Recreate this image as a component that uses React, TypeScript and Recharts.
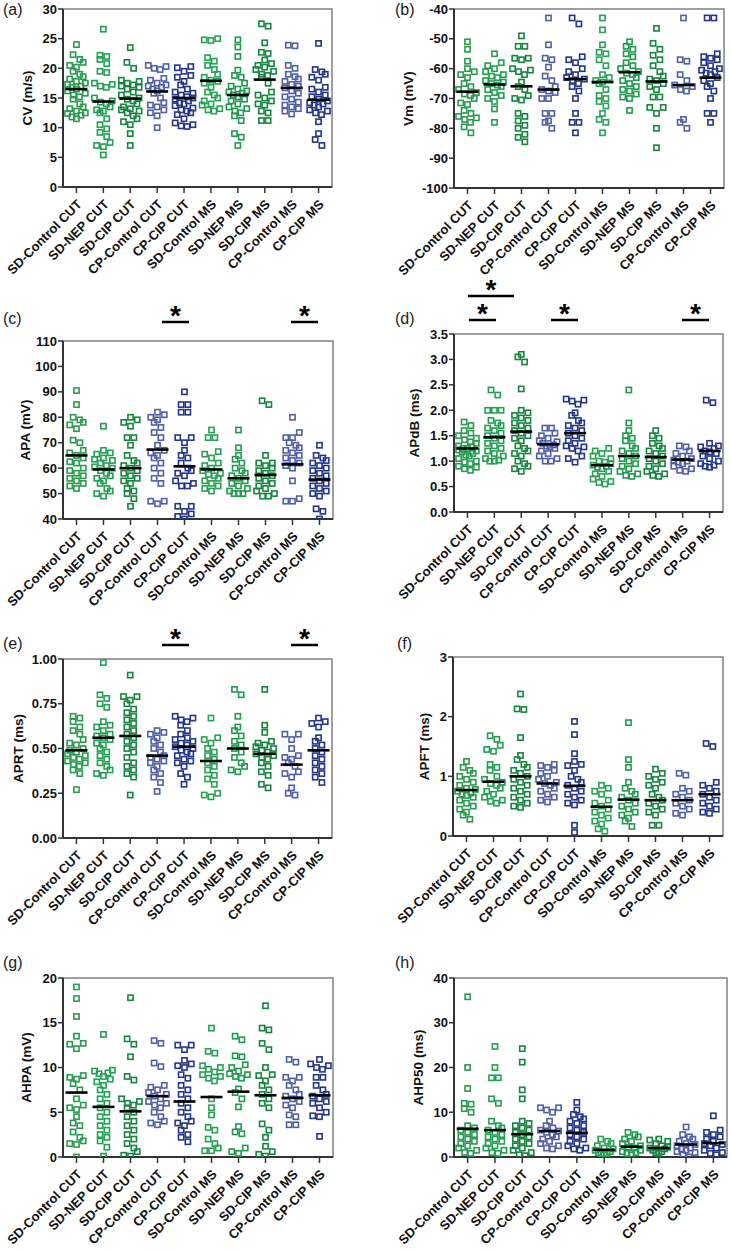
import { ScatterChart, Scatter, XAxis, YAxis, ReferenceArea } from 'recharts'

const FONT = '"Liberation Sans", Arial, Helvetica, sans-serif'

const categories = [
  'SD-Control CUT', 'SD-NEP CUT', 'SD-CIP CUT', 'CP-Control CUT', 'CP-CIP CUT',
  'SD-Control MS', 'SD-NEP MS', 'SD-CIP MS', 'CP-Control MS', 'CP-CIP MS',
]
const groupColors = [
  '#2a9b4f', '#22a052', '#17853f', '#5060a8', '#24368a',
  '#28a254', '#1f9b4e', '#17853f', '#5060a8', '#24368a',
]

// (a) conduction velocity, m/s
const cvValues = [
  [24, 22.3, 21.5, 21, 20.5, 20.2, 19.5, 19, 18.6, 18.2, 17.8, 17.5, 17.3, 17, 16.8, 16.5, 16.2, 15.8, 15.5, 15.2, 14.8, 14, 13.5, 13.2, 12.8, 12.4, 12.1, 11.8, 11.5, 12.5],
  [26.6, 22.2, 22, 21.5, 20.8, 19.5, 19.3, 17.5, 17.3, 17, 16.8, 15, 14.5, 14.3, 14, 13.5, 13, 12.8, 12.5, 11.5, 10.5, 9.8, 9.2, 8.5, 7.5, 7, 6.8, 5.4],
  [23.5, 21, 20, 18, 17.8, 17.5, 17.2, 17, 16.8, 16.5, 16, 15.5, 15, 14.8, 14.5, 14, 13.5, 13.2, 13, 12.8, 12.5, 12, 11.5, 11, 10.5, 9, 7],
  [20.5, 20.3, 20, 19.8, 18.3, 18, 17.5, 17.2, 17, 16.8, 16.5, 16.2, 15.8, 15, 14.2, 13.8, 13.5, 13, 12.5, 12, 10],
  [20.3, 20.1, 19.5, 18.8, 18.5, 17.8, 17.2, 16.5, 16, 15.8, 15.5, 15.2, 15, 14.8, 14.5, 14.2, 14, 13.7, 13.3, 13, 12.8, 12.5, 12.2, 11.5, 10.8, 10.5, 10.3, 10.2],
  [24.8, 25, 24.7, 21.8, 21.2, 20.5, 19.8, 19, 18.5, 18, 17.8, 17.5, 16.8, 16, 15.5, 15, 14.5, 14, 13.8, 13.2, 13, 12.8],
  [24.8, 23.6, 22, 19.7, 18.8, 18.5, 17.5, 17, 16.5, 16.2, 16, 15.8, 15.5, 15.2, 14.8, 14.5, 14, 13.5, 13.2, 12.8, 12.5, 12, 11.2, 9, 8.4, 7],
  [27.5, 27.1, 24.3, 22.7, 22.5, 21.4, 20.8, 20.5, 20.2, 19.8, 19.5, 19, 18.8, 18.5, 17.5, 16, 15.5, 15, 14.5, 14, 13.8, 12.8, 12.5, 11.2, 11.2],
  [23.8, 23.9, 20.5, 20, 19, 18.6, 18.2, 17.8, 17.3, 17, 16.7, 16.2, 15.8, 15.2, 14.8, 14.3, 13.8, 13.5, 13.2, 12.8, 12.3],
  [24.2, 19.8, 19.4, 19, 18.5, 18, 16.8, 16.5, 16, 15.5, 15.2, 14.8, 14.5, 14.2, 14, 13.8, 13.5, 13, 12.8, 12.5, 12.2, 11, 9, 8, 7],
]
const cvMeans = [16.5, 14.4, 14.9, 16.1, 15.0, 17.9, 15.5, 18.1, 16.7, 14.7]
const cvTicks = [0, 5, 10, 15, 20, 25, 30]

// (b) membrane potential, mV
const vmValues = [
  [-51, -53.5, -57.5, -60, -61, -62, -63, -65, -66, -67, -68, -68.5, -69, -70, -71.5, -72, -74, -75, -76, -76.5, -77, -78, -79.5, -81.5],
  [-55, -58, -59, -60, -61, -62, -62.5, -63, -64, -64.5, -65, -65.5, -66, -67, -68, -69, -70, -71, -73.5, -78],
  [-49, -52.5, -52.5, -56.5, -57, -60, -61, -62, -64.5, -66, -67, -69, -70, -70.5, -75, -76, -77.5, -79, -80, -82, -83, -84.5, -56.5, -60.5],
  [-43, -52, -56.5, -57, -59.5, -62.5, -64, -66, -67, -67.5, -68, -70, -70, -75, -75, -77.5, -78, -80],
  [-43, -45, -56, -57, -58, -60, -61, -62, -63, -63.5, -64, -65, -66, -67.5, -70, -75, -78, -78, -81.5],
  [-43, -47, -52, -54.5, -55, -57, -59, -62, -63, -64, -64.5, -65, -67, -69, -70, -71, -72.5, -75, -77, -78, -81.5],
  [-51, -52.5, -53.5, -55, -56, -58, -59, -60, -61, -61.5, -62, -63, -64, -65, -66, -67, -67.5, -68.5, -69.5, -70, -74],
  [-46.5, -51.5, -53.5, -55.5, -57, -59, -61, -62.5, -63.5, -64, -65, -66, -67, -69.5, -69.5, -73, -73, -75, -80, -86.5],
  [-43, -57.5, -57, -62, -64, -65.5, -66, -67, -67.5, -77, -78, -80],
  [-43, -43, -55, -56, -57, -58, -59, -60, -61, -61.5, -62, -63, -64, -65, -66, -67.5, -70, -75, -75, -78, -56.5, -60.5],
]
const vmMeans = [-67.7, -65.3, -65.9, -67.0, -63.5, -64.5, -61.2, -64.3, -65.5, -63.0]
const vmTicks = [-100, -90, -80, -70, -60, -50, -40]

// (c) AP amplitude, mV
const apaValues = [
  [90.5, 85, 80, 79, 78, 77, 75.5, 71, 70, 67, 65, 64, 62, 60, 59, 58, 57, 56, 55, 54, 53, 52, 62.5, 66],
  [76.5, 67, 66, 65.5, 64, 63, 62, 61, 60, 59, 58, 57, 56, 55, 54, 52, 51, 50, 49, 60.5, 63.5],
  [80, 79, 78, 76.5, 72, 72, 69, 65, 63, 62, 61, 60, 59, 58, 57, 56, 55, 54, 52, 51, 50, 48, 45],
  [82, 81, 80, 79, 78, 76, 74, 72, 69, 67, 66, 65, 64, 62, 60, 58, 56, 54, 47, 47, 46],
  [90, 85, 85, 82, 82, 72, 72, 70, 67, 65, 64, 62, 60, 59, 58, 57, 55, 54, 53, 53, 45, 45, 43, 42, 41, 40],
  [75, 72, 72, 66.5, 65.5, 64, 62, 61, 60, 59, 58, 57.5, 57, 56, 55, 54, 53, 52, 51],
  [75, 68, 65, 63.5, 62, 60, 59, 58, 57, 56, 55, 54, 53, 52, 51, 50, 50, 50],
  [86.5, 85, 65, 62, 61, 60, 59, 58, 57, 56, 55, 54, 53, 52, 51, 50, 49, 49, 62],
  [80, 74, 72, 72, 70, 69, 68, 67, 66, 65, 64, 63, 62, 61, 60, 55, 48, 47, 47],
  [69, 65, 64, 63, 62, 61, 60, 59, 58, 57, 56, 55, 54, 53, 52, 51, 50, 49, 44, 43, 40],
]
const apaMeans = [65.0, 59.5, 60.0, 67.3, 60.7, 59.5, 56.0, 57.3, 61.5, 55.5]
const apaTicks = [40, 50, 60, 70, 80, 90, 100, 110]

// (d) AP duration at base, ms
const apdbValues = [
  [1.77, 1.7, 1.6, 1.55, 1.5, 1.45, 1.42, 1.38, 1.35, 1.3, 1.28, 1.25, 1.22, 1.2, 1.18, 1.15, 1.12, 1.1, 1.05, 1.0, 0.98, 0.95, 0.9, 0.88, 0.85, 0.82, 1.25],
  [2.4, 2.3, 2.0, 2.0, 2.0, 1.8, 1.75, 1.7, 1.65, 1.6, 1.55, 1.5, 1.45, 1.4, 1.35, 1.3, 1.25, 1.2, 1.15, 1.1, 1.05, 1.02, 1.0, 1.0],
  [3.1, 3.05, 2.95, 2.42, 2.0, 1.95, 1.9, 1.85, 1.8, 1.75, 1.7, 1.65, 1.6, 1.55, 1.5, 1.45, 1.4, 1.3, 1.25, 1.2, 1.15, 1.1, 1.0, 0.95, 0.9, 0.85, 0.8],
  [1.65, 1.65, 1.55, 1.5, 1.45, 1.4, 1.38, 1.35, 1.32, 1.3, 1.28, 1.25, 1.2, 1.15, 1.1, 1.05, 1.0, 1.0],
  [2.22, 2.2, 2.18, 2.12, 1.95, 1.9, 1.8, 1.75, 1.7, 1.65, 1.6, 1.55, 1.5, 1.45, 1.4, 1.35, 1.3, 1.28, 1.25, 1.2, 1.1, 1.05, 0.98],
  [1.25, 1.2, 1.15, 1.1, 1.05, 1.0, 0.98, 0.95, 0.92, 0.9, 0.88, 0.85, 0.8, 0.75, 0.7, 0.65, 0.6, 0.58, 0.55],
  [2.4, 1.75, 1.6, 1.5, 1.45, 1.4, 1.3, 1.25, 1.2, 1.15, 1.1, 1.05, 1.0, 0.95, 0.9, 0.85, 0.8, 0.75, 0.72, 0.7],
  [1.6, 1.5, 1.45, 1.35, 1.3, 1.25, 1.2, 1.15, 1.1, 1.05, 1.0, 0.95, 0.9, 0.85, 0.8, 0.75, 0.72, 0.7],
  [1.3, 1.28, 1.2, 1.15, 1.1, 1.05, 1.02, 1.0, 0.98, 0.95, 0.9, 0.85, 0.82, 0.8],
  [2.2, 2.15, 1.35, 1.3, 1.28, 1.25, 1.2, 1.18, 1.15, 1.1, 1.05, 1.0, 0.95, 0.92, 0.9, 0.88],
]
const apdbMeans = [1.25, 1.47, 1.58, 1.33, 1.55, 0.92, 1.1, 1.08, 1.03, 1.2]
const apdbTicks = [0, 0.5, 1, 1.5, 2, 2.5, 3, 3.5]

// (e) AP rise time, ms
const aprtValues = [
  [0.68, 0.67, 0.65, 0.62, 0.6, 0.58, 0.55, 0.53, 0.52, 0.5, 0.49, 0.48, 0.47, 0.46, 0.45, 0.44, 0.43, 0.42, 0.41, 0.4, 0.38, 0.36, 0.27],
  [0.98, 0.8, 0.78, 0.75, 0.73, 0.65, 0.63, 0.62, 0.6, 0.58, 0.57, 0.56, 0.55, 0.53, 0.52, 0.5, 0.48, 0.46, 0.44, 0.42, 0.4, 0.38, 0.35, 0.36],
  [0.91, 0.79, 0.79, 0.77, 0.75, 0.72, 0.7, 0.68, 0.66, 0.64, 0.62, 0.6, 0.58, 0.56, 0.54, 0.52, 0.5, 0.48, 0.45, 0.42, 0.4, 0.38, 0.36, 0.34, 0.24],
  [0.6, 0.59, 0.58, 0.56, 0.54, 0.52, 0.5, 0.48, 0.46, 0.45, 0.44, 0.43, 0.42, 0.4, 0.38, 0.36, 0.34, 0.31, 0.26],
  [0.68, 0.67, 0.66, 0.65, 0.63, 0.6, 0.58, 0.56, 0.55, 0.54, 0.53, 0.52, 0.51, 0.5, 0.49, 0.48, 0.47, 0.46, 0.44, 0.43, 0.42, 0.4, 0.36, 0.34, 0.3],
  [0.67, 0.56, 0.55, 0.53, 0.5, 0.48, 0.46, 0.44, 0.42, 0.4, 0.38, 0.35, 0.33, 0.3, 0.25, 0.24, 0.23],
  [0.83, 0.8, 0.68, 0.62, 0.6, 0.57, 0.54, 0.52, 0.5, 0.48, 0.45, 0.42, 0.4, 0.38, 0.37],
  [0.83, 0.63, 0.59, 0.54, 0.53, 0.52, 0.51, 0.5, 0.49, 0.48, 0.47, 0.46, 0.45, 0.44, 0.42, 0.4, 0.37, 0.35, 0.3, 0.28],
  [0.58, 0.58, 0.55, 0.5, 0.46, 0.45, 0.44, 0.42, 0.4, 0.37, 0.36, 0.34, 0.28, 0.25, 0.24],
  [0.67, 0.65, 0.64, 0.62, 0.56, 0.54, 0.52, 0.5, 0.48, 0.46, 0.44, 0.42, 0.4, 0.38, 0.36, 0.34, 0.31],
]
const aprtMeans = [0.49, 0.56, 0.57, 0.46, 0.51, 0.43, 0.5, 0.47, 0.41, 0.49]
const aprtTicks = [0, 0.25, 0.5, 0.75, 1]

// (f) AP fall time, ms
const apftValues = [
  [1.25, 1.15, 1.1, 1.05, 1.0, 0.95, 0.9, 0.85, 0.8, 0.78, 0.75, 0.72, 0.7, 0.68, 0.65, 0.6, 0.55, 0.5, 0.45, 0.4, 0.35, 0.28],
  [1.68, 1.62, 1.52, 1.45, 1.42, 1.2, 1.15, 1.1, 1.0, 0.95, 0.9, 0.88, 0.85, 0.8, 0.75, 0.7, 0.65, 0.6, 0.58, 0.55],
  [2.38, 2.13, 2.12, 1.65, 1.35, 1.28, 1.2, 1.15, 1.1, 1.05, 1.0, 0.95, 0.9, 0.85, 0.8, 0.75, 0.7, 0.65, 0.6, 0.55, 0.5, 0.48],
  [1.2, 1.18, 1.15, 1.1, 1.05, 1.0, 0.95, 0.9, 0.88, 0.85, 0.8, 0.75, 0.7, 0.65, 0.6, 0.57],
  [1.92, 1.7, 1.38, 1.25, 1.2, 1.18, 1.1, 1.0, 0.95, 0.9, 0.85, 0.8, 0.75, 0.7, 0.65, 0.6, 0.55, 0.52, 0.18, 0.06],
  [0.85, 0.8, 0.75, 0.7, 0.6, 0.55, 0.5, 0.45, 0.4, 0.35, 0.3, 0.25, 0.2, 0.12, 0.08],
  [1.9, 1.28, 1.15, 0.9, 0.8, 0.75, 0.7, 0.65, 0.6, 0.55, 0.5, 0.45, 0.4, 0.35, 0.3, 0.25, 0.16],
  [1.12, 1.05, 1.0, 0.95, 0.9, 0.85, 0.8, 0.7, 0.65, 0.6, 0.55, 0.5, 0.45, 0.4, 0.35, 0.18, 0.18],
  [1.05, 1.02, 0.8, 0.75, 0.7, 0.65, 0.6, 0.55, 0.5, 0.45, 0.38, 0.35],
  [1.55, 1.5, 0.9, 0.85, 0.8, 0.75, 0.7, 0.65, 0.6, 0.55, 0.5, 0.45, 0.4, 0.38],
]
const apftMeans = [0.77, 0.91, 1.0, 0.88, 0.84, 0.49, 0.61, 0.6, 0.6, 0.7]
const apftTicks = [0, 1, 2, 3]

// (g) AHP amplitude, mV
const ahpaValues = [
  [19, 17.7, 15.7, 13.5, 12.7, 12.6, 12.1, 9.1, 8.9, 8.7, 8.2, 7.5, 6.5, 5.8, 5.5, 5.3, 4.5, 3.8, 3.5, 2.8, 2.2, 1.8, 1.5, 1.4, 0],
  [13.7, 9.7, 9.4, 9.0, 8.7, 8.4, 8.0, 7.5, 7.0, 6.5, 6.0, 5.5, 5.0, 4.5, 4.0, 3.5, 3.0, 2.5, 2.2, 1.8, 1.1, 0.1, 9.6, 9.3],
  [17.8, 13.2, 12.6, 11.2, 9.0, 8.6, 6.5, 6.2, 6.0, 5.8, 5.5, 5.0, 4.5, 4.0, 3.5, 3.0, 2.5, 2.0, 1.5, 1.0, 0.6, 0.2, 0.1],
  [12.7, 13.0, 10.5, 10.1, 8.0, 7.8, 7.5, 7.2, 7.0, 6.8, 6.5, 6.2, 6.0, 5.8, 5.5, 5.0, 4.5, 4.0, 3.8, 3.6],
  [12.5, 12.5, 12.0, 10.8, 10.4, 10.2, 10.0, 9.2, 8.8, 8.0, 7.5, 7.0, 6.5, 6.0, 5.5, 5.0, 4.5, 4.0, 3.8, 3.5, 3.0, 2.5, 2.2, 1.7],
  [14.4, 11.8, 11.6, 10.2, 10.0, 9.8, 9.5, 9.2, 9.0, 8.8, 8.5, 6.5, 5.5, 4.7, 3.3, 3.0, 2.0, 1.5, 1.0, 0.7, 0.7],
  [13.5, 13.1, 11.3, 11.2, 10.3, 10.0, 9.6, 9.3, 9.2, 9.0, 8.8, 7.6, 7.2, 6.5, 5.6, 3.4, 2.8, 2.6, 1.0, 0.6, 0.4],
  [16.9, 14.4, 14.2, 12.7, 12.0, 10.0, 9.2, 9.1, 8.5, 8.0, 7.5, 7.0, 6.5, 6.0, 5.5, 3.7, 3.0, 2.2, 1.2, 0.6, 0.3, 0.1],
  [10.6, 10.9, 8.9, 8.9, 8.5, 8.0, 7.5, 7.0, 6.8, 6.5, 6.2, 5.8, 5.5, 4.7, 4.5, 3.6, 3.6],
  [10.9, 10.4, 10.2, 10.0, 9.8, 8.9, 8.9, 8.0, 7.5, 7.0, 6.8, 6.5, 6.2, 6.0, 5.5, 5.0, 4.6, 4.5, 2.3],
]
const ahpaMeans = [7.2, 5.6, 5.1, 6.8, 6.2, 6.7, 7.3, 6.9, 6.6, 6.9]
const ahpaTicks = [0, 5, 10, 15, 20]

// (h) AHP duration at 50%, ms
const ahp50Values = [
  [35.8, 20, 15.3, 12, 11.8, 10.8, 10, 7, 6.5, 6, 5.5, 5, 4.5, 4, 3.5, 3, 2.5, 2, 1.5, 1, 0.8],
  [24.7, 20, 17.7, 17.7, 13, 12, 8, 7, 6.5, 6, 5.5, 5, 4.5, 4, 3.5, 3, 2.5, 2, 1.5, 1, 0.8],
  [24.2, 21.2, 15, 13, 8, 7.5, 7, 6.5, 6, 5.5, 5, 4.5, 4, 3.5, 3, 2.5, 2, 1.5, 1, 0.5, 0.3],
  [11, 11, 10.5, 10, 8, 7, 6.5, 6, 5.8, 5.5, 5, 4.5, 4, 3.5, 3, 2.5, 2, 1.8],
  [12.2, 10.5, 9.5, 9, 8.5, 8, 7.5, 7, 6.5, 6, 5.5, 5, 4.5, 4, 3.5, 3, 2.5, 2, 1.8, 1.5],
  [4, 3.5, 3, 2.5, 2, 1.8, 1.5, 1.2, 1, 0.8, 0.6, 0.5],
  [5.5, 5, 4.5, 4, 3.5, 3, 2.5, 2.2, 2, 1.5, 1.2, 1, 0.8, 0.5],
  [4, 3.8, 3.5, 3, 2.5, 2.2, 2, 1.8, 1.5, 1.2, 1, 0.8],
  [6.7, 5, 4.5, 4, 3.5, 3, 2.8, 2.5, 2, 1.8, 1.5, 1.2, 1, 0.5, 0],
  [9.2, 6, 5.5, 5, 4.5, 4, 3.5, 3, 2.8, 2.5, 2, 1.5, 1, 0.8, 0.5],
]
const ahp50Means = [6.3, 6.0, 5.1, 5.8, 5.4, 1.6, 2.3, 2.0, 2.8, 3.1]
const ahp50Ticks = [0, 10, 20, 30, 40]

type Sig = { x1: number; x2: number; y: number }

type PanelCfg = {
  letter: string
  title: string
  values: number[][]
  means: number[]
  ticks: number[]
  dec: number
  plot: [number, number, number, number]
  letterAt: [number, number]
  titleX: number
  sig: Sig[]
}

const panels: PanelCfg[] = [
  { letter: '(a)', title: 'CV (m/s)', values: cvValues, means: cvMeans, ticks: cvTicks, dec: 0,
    plot: [63, 9, 332, 187], letterAt: [3, 15], titleX: 27, sig: [] },
  { letter: '(b)', title: 'Vm (mV)', values: vmValues, means: vmMeans, ticks: vmTicks, dec: 0,
    plot: [454, 9, 724, 188], letterAt: [395, 15], titleX: 408, sig: [] },
  { letter: '(c)', title: 'APA (mV)', values: apaValues, means: apaMeans, ticks: apaTicks, dec: 0,
    plot: [63, 341, 333, 519], letterAt: [3, 324], titleX: 25,
    sig: [{ x1: 162, x2: 189, y: 322 }, { x1: 291, x2: 318, y: 322 }] },
  { letter: '(d)', title: 'APdB (ms)', values: apdbValues, means: apdbMeans, ticks: apdbTicks, dec: 1,
    plot: [454, 334, 723, 512], letterAt: [395, 324], titleX: 414,
    sig: [{ x1: 468, x2: 514, y: 296 }, { x1: 469, x2: 496, y: 320 }, { x1: 551, x2: 578, y: 320 }, { x1: 682, x2: 709, y: 320 }] },
  { letter: '(e)', title: 'APRT (ms)', values: aprtValues, means: aprtMeans, ticks: aprtTicks, dec: 2,
    plot: [63, 659, 332, 838], letterAt: [3, 649], titleX: 18,
    sig: [{ x1: 162, x2: 189, y: 645 }, { x1: 291, x2: 318, y: 645 }] },
  { letter: '(f)', title: 'APFT (ms)', values: apftValues, means: apftMeans, ticks: apftTicks, dec: 0,
    plot: [453, 657, 723, 836], letterAt: [397, 649], titleX: 424, sig: [] },
  { letter: '(g)', title: 'AHPA (mV)', values: ahpaValues, means: ahpaMeans, ticks: ahpaTicks, dec: 0,
    plot: [63, 978, 333, 1157], letterAt: [3, 968], titleX: 26, sig: [] },
  { letter: '(h)', title: 'AHP50 (ms)', values: ahp50Values, means: ahp50Means, ticks: ahp50Ticks, dec: 0,
    plot: [454, 978, 727, 1157], letterAt: [395, 968], titleX: 418, sig: [] },
]

const YW = 60
const MT = 10
const MR = 6
const XH = 100

// spread points that share a height side by side (scatter dot plot layout)
function swarm(vals: number[], gi: number, bin: number) {
  const order = vals.map((_, i) => i).sort((a, b) => vals[a] - vals[b])
  const pts: { x: number; y: number }[] = []
  let k = 0
  while (k < order.length) {
    let j = k
    while (j + 1 < order.length && vals[order[j + 1]] - vals[order[k]] < bin) j++
    const n = j - k + 1
    const step = n > 1 ? Math.min(0.25, 0.66 / (n - 1)) : 0
    for (let m = 0; m < n; m++) {
      const sgn = m % 2 ? -1 : 1
      const slot = n % 2 ? Math.ceil(m / 2) * sgn : (Math.floor(m / 2) + 0.5) * sgn
      pts.push({ x: gi + slot * step, y: vals[order[k + m]] })
    }
    k = j + 1
  }
  return pts
}

const square = (color: string) => (p: any) => (
  <rect x={p.cx - 2.6} y={p.cy - 2.6} width={5.2} height={5.2} fill="none" stroke={color} strokeWidth={1.6} />
)

const meanMark = (p: any) => (
  <line x1={p.cx - 11} x2={p.cx + 11} y1={p.cy} y2={p.cy} stroke="#000" strokeWidth={2.6} />
)

function CatTick({ x, y, payload }: any) {
  const ax = x + 3
  const ay = y + 7
  return (
    <text x={ax} y={ay} transform={`rotate(-45 ${ax} ${ay})`} textAnchor="end" dominantBaseline="central"
      fontFamily={FONT} fontWeight={700} fontSize={13} fill="#111">
      {categories[payload.value]}
    </text>
  )
}

function ValTick({ x, y, payload, dec }: any) {
  return (
    <text x={x} y={y} textAnchor="end" dominantBaseline="central"
      fontFamily={FONT} fontWeight={700} fontSize={13} fill="#111">
      {Number(payload.value).toFixed(dec)}
    </text>
  )
}

function Panel({ cfg }: { cfg: PanelCfg }) {
  const [l, t, r, b] = cfg.plot
  const lo = cfg.ticks[0]
  const hi = cfg.ticks[cfg.ticks.length - 1]
  const bin = ((hi - lo) * 6.4) / (b - t)
  const groups = cfg.values.map((vals, gi) => swarm(vals, gi, bin))
  const meanPts = cfg.means.map((m, i) => ({ x: i, y: m }))
  return (
    <div style={{ position: 'absolute', left: l - YW, top: t - MT }}>
      <ScatterChart width={r - l + YW + MR} height={b - t + MT + XH}
        margin={{ top: MT, right: MR, bottom: 0, left: 0 }}>
        <ReferenceArea x1={-0.5} x2={9.5} y1={lo} y2={hi} fill="none" stroke="#808080" strokeWidth={1.5} ifOverflow="visible" />
        <XAxis type="number" dataKey="x" domain={[-0.5, 9.5]} ticks={categories.map((_, i) => i)} interval={0}
          allowDataOverflow height={XH} tick={<CatTick />} tickSize={6}
          axisLine={{ stroke: '#333', strokeWidth: 2 }} tickLine={{ stroke: '#333', strokeWidth: 1.5 }} />
        <YAxis type="number" dataKey="y" domain={[lo, hi]} ticks={cfg.ticks} interval={0} allowDataOverflow
          width={YW} tickSize={5} tickMargin={1}
          tick={(props: any) => <ValTick {...props} dec={cfg.dec} />}
          axisLine={{ stroke: '#333', strokeWidth: 2 }} tickLine={{ stroke: '#333', strokeWidth: 1.5 }} />
        {groups.map((pts, gi) => (
          <Scatter key={gi} data={pts} shape={square(groupColors[gi])} isAnimationActive={false} />
        ))}
        <Scatter data={meanPts} shape={meanMark} isAnimationActive={false} />
      </ScatterChart>
    </div>
  )
}

export default function App() {
  return (
    <div style={{ position: 'absolute', left: 0, top: 0, width: 730, height: 1250, background: '#fff' }}>
      {panels.map((p) => (
        <Panel key={p.letter} cfg={p} />
      ))}
      <svg width={730} height={1250} style={{ position: 'absolute', left: 0, top: 0, pointerEvents: 'none' }}>
        {panels.map((p) => {
          const cy = (p.plot[1] + p.plot[3]) / 2
          return (
            <g key={p.letter}>
              <text x={p.letterAt[0]} y={p.letterAt[1]} fontFamily={FONT} fontSize={16} fill="#222">{p.letter}</text>
              <text x={p.titleX} y={cy} transform={`rotate(-90 ${p.titleX} ${cy})`} textAnchor="middle"
                dominantBaseline="central" fontFamily={FONT} fontWeight={700} fontSize={13.5} fill="#111">
                {p.title}
              </text>
              {p.sig.map((s, i) => (
                <g key={i}>
                  <line x1={s.x1} x2={s.x2} y1={s.y} y2={s.y} stroke="#000" strokeWidth={2.5} />
                  <text x={(s.x1 + s.x2) / 2} y={s.y + 3} textAnchor="middle" fontFamily={FONT}
                    fontWeight={700} fontSize={28} fill="#000">*</text>
                </g>
              ))}
            </g>
          )
        })}
      </svg>
    </div>
  )
}
